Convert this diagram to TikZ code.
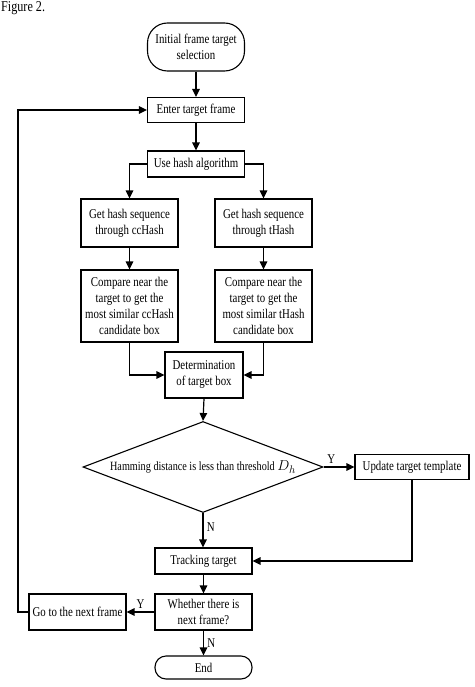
\documentclass[tikz,border=0pt]{standalone}
\usepackage{fontspec}
\setmainfont[FakeStretch=0.81]{Liberation Serif}
\usetikzlibrary{shapes.geometric}
\usetikzlibrary{arrows.meta}

\tikzset{
  box/.style={draw,line width=1.1pt,align=center,inner sep=1pt,
    minimum width=97pt,minimum height=25pt,
    font=\fontsize{13.4}{16}\selectfont},
  term/.style={box,rounded corners=#1},
  decide/.style={draw,line width=1.1pt,diamond,aspect=2.64,inner sep=0pt,
    minimum width=240pt,minimum height=91pt,
    font=\fontsize{12.6}{14}\selectfont},
  flow/.style={->,line width=1.2pt},
  lab/.style={font=\fontsize{13.4}{14}\selectfont}
}

\begin{document}
\begin{tikzpicture}[>={Triangle[length=8pt,width=7.5pt]},x=1pt,y=-1pt]
  \useasboundingbox (0,0) rectangle (474,687);
  \node[anchor=base west,font=\fontsize{15}{16}\selectfont,inner sep=0pt] (fig) at (1,12) {Figure 2.};

  % main column
  \node[term=20pt,minimum height=48pt] (start) at (196,47) {Initial frame target\\selection};
  \node[box] (enter) at (196,110) {Enter target frame};
  \node[box,minimum height=26pt] (hash) at (196,164) {Use hash algorithm};
  \node[box,minimum height=48pt] (gl) at (129.5,223) {Get hash sequence\\through ccHash};
  \node[box,minimum height=48pt] (gr) at (263.5,223) {Get hash sequence\\through tHash};
  \node[box,minimum height=72pt] (cl) at (129.5,306) {Compare near the\\target to get the\\most similar ccHash\\candidate box};
  \node[box,minimum height=72pt] (cr) at (263.5,306) {Compare near the\\target to get the\\most similar tHash\\candidate box};
  \node[box,minimum width=78pt,minimum height=46pt] (det) at (204,375) {Determination\\of target box};
  \node[decide] (dec) at (203,467) {Hamming distance is less than threshold {\fontsize{15}{15}\selectfont$D_h$}};
  \node[box,minimum width=114pt] (upd) at (412,467) {Update target template};
  \node[box,minimum height=26pt] (track) at (203.5,561) {Tracking target};
  \node[box,minimum height=36pt] (next) at (203.5,612) {Whether there is\\next frame?};
  \node[box,minimum height=36pt] (go) at (77.5,612) {Go to the next frame};
  \node[term=11pt,minimum height=23pt] (end) at (203.5,667.5) {End};

  % connectors
  \draw[flow] (start) -- (enter);
  \draw[flow] (enter) -- (hash);
  \draw[flow] (hash.west) -| (gl.north);
  \draw[flow] (hash.east) -| (gr.north);
  \draw[flow] (gl) -- (cl);
  \draw[flow] (gr) -- (cr);
  \draw[flow] (cl.south) |- (det.west);
  \draw[flow] (cr.south) |- (det.east);
  \draw[flow] (det.south) -- (dec.north);
  \draw[flow] (dec.east) -- node[lab,above,pos=0.25] (y1) {Y} (upd.west);
  \draw[flow] (dec.south) -- node[lab,right,pos=0.4] (n1) {N} (dec.south |- track.north);
  \draw[flow] (upd.south) |- (track.east);
  \draw[flow] (track) -- (next);
  \draw[flow] (next.west) -- node[lab,above] (y2) {Y} (go.east);
  \draw[flow] (next) -- node[lab,right] (n2) {N} (end);
  \coordinate (back) at (18,612);
  \draw[flow] (go.west) -- (back) |- (enter.west);
\end{tikzpicture}
\end{document}
